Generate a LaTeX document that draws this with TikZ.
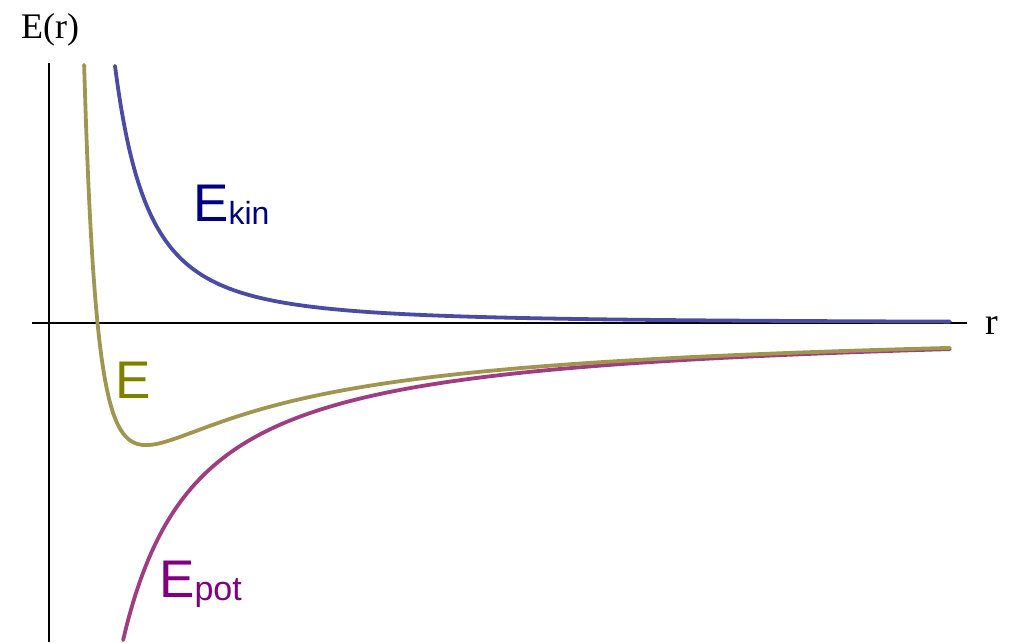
\documentclass[tikz,border=0pt]{standalone}
\usepackage{fontspec}
\setmainfont{Liberation Serif}
\newfontfamily\labelfont{Liberation Sans}
\usetikzlibrary{positioning}
\definecolor{kinline}{RGB}{75,75,165}
\definecolor{totline}{RGB}{160,150,80}
\definecolor{potline}{RGB}{160,60,130}
\definecolor{kintext}{RGB}{0,0,128}
\definecolor{tottext}{RGB}{128,128,0}
\definecolor{pottext}{RGB}{128,0,128}
\tikzset{x=100pt, y=100pt, % one unit is 100 px of the picture
axis/.style={line width=1.8pt, black}, % the two axes
curve/.style={line width=3.8pt, line cap=round, smooth}, % the three energies
big/.style={font=\labelfont\fontsize{53}{53}\selectfont, inner sep=0pt, anchor=base west},
}
\newcommand{\sub}[2]{\raisebox{-3pt}{\fontsize{#1}{#1}\selectfont #2}}

\begin{document}
\begin{tikzpicture}
\useasboundingbox (-0.49,-3.19) rectangle (9.62,3.23);
\coordinate (o) at (0,0);
\coordinate (xl) at (-0.17,0);
\coordinate (xr) at (9.18,0);
\coordinate (yb) at (0,-3.19);
\coordinate (yt) at (0,2.60);
\draw[axis] (xl) -- (xr);
\draw[axis] (yb) -- (yt);
\node[anchor=base west, inner sep=0pt, font=\fontsize{36}{36}\selectfont] (ylab) at (-0.28,2.84) {E(r)};
\node[anchor=base west, inner sep=0pt, font=\fontsize{38}{38}\selectfont] (xlab) at (9.36,-0.12) {r};
% curves: Ekin ~ 1/r^2, Epot ~ -1/r, E = Ekin + Epot
\draw[curve, kinline] plot[domain=0.66:9.01, samples=300] (\x,{1.12/(\x*\x)});
\draw[curve, potline] plot[domain=0.741:9.01, samples=300] (\x,{-2.35/\x});
\draw[curve, totline] plot[domain=0.351:9.01, samples=400] (\x,{1.15/(\x*\x)-2.37/\x});
\node[big, kintext] (ekin) at (1.44,1.01) {E\sub{32}{kin}};
\node[big, tottext] (etot) at (0.66,-0.75) {E};
\node[big, pottext] (epot) at (1.10,-2.74) {E\sub{34}{pot}};
\end{tikzpicture}
\end{document}
